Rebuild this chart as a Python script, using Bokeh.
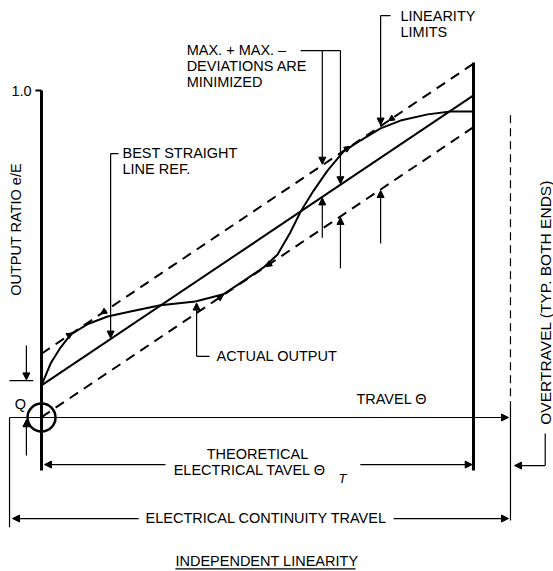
import math
from bokeh.plotting import figure
from bokeh.models import ColumnDataSource, Arrow, NormalHead, Range1d
from bokeh.core.properties import value
from bokeh.embed import file_html
from bokeh.resources import INLINE

# ---------------- data (travel fraction u, output ratio v) ----------------
ACTUAL_X = [0.0, 0.021, 0.044, 0.067, 0.106, 0.153, 0.206, 0.275, 0.356, 0.421,
            0.468, 0.514, 0.546, 0.576, 0.600, 0.630, 0.662, 0.699, 0.738, 0.785,
            0.831, 0.894, 0.947, 1.0]
ACTUAL_Y = [0.098, 0.165, 0.214, 0.253, 0.285, 0.309, 0.324, 0.343, 0.355, 0.377,
            0.418, 0.459, 0.498, 0.566, 0.630, 0.694, 0.755, 0.813, 0.847, 0.884,
            0.908, 0.927, 0.936, 0.936]
BEST_X = [0.0, 1.0]
BEST_Y = [0.098, 0.985]
BAND = 0.097                       # linearity limit half-width
Y_TICKS = [1.0]
Y_TICK_LABELS = ["1.0"]
# contact points of the actual output with the limit lines (u, which limit, direction)
CONTACT_U = [0.072, 0.137, 0.421, 0.519, 0.715, 0.803]
CONTACT_SIDE = [1, 1, -1, -1, 1, 1]
CONTACT_DIR = [1, -1, 1, -1, 1, -1]

FONT = value("Liberation Sans")

p = figure(width=553, height=571,
           x_range=Range1d(-0.09491, 1.18519), y_range=Range1d(-0.47095, 1.27523),
           output_backend="svg", toolbar_location=None, min_border=0,
           x_axis_location=None, y_axis_location=None)
p.grid.visible = False
p.outline_line_color = None
p.background_fill_color = "white"
p.border_fill_color = "white"

K = "black"
slope = (BEST_Y[1] - BEST_Y[0]) / (BEST_X[1] - BEST_X[0])

def best(u):
    return BEST_Y[0] + slope * u

# ---- thick frame lines ----
p.segment(x0=[0.0, 1.0], y0=[Y_TICKS[0], 1.086], x1=[0.0, 1.0], y1=[-0.162, -0.162],
          line_color=K, line_width=3)
p.segment(x0=[-0.014], y0=Y_TICKS, x1=[0.0], y1=Y_TICKS, line_color=K, line_width=2)

# ---- best straight line and limits ----
p.line(BEST_X, BEST_Y, line_color=K, line_width=2)
p.line(BEST_X, [y + BAND for y in BEST_Y], line_color=K, line_width=2, line_dash="10 7")
p.line(BEST_X, [y - BAND for y in BEST_Y], line_color=K, line_width=2, line_dash="10 7")

# ---- actual output ----
p.line(ACTUAL_X, ACTUAL_Y, line_color=K, line_width=2)

# ---- Q circle at origin ----
p.scatter([0.0], [0.0], marker="circle", size=28, fill_color=None, line_color=K, line_width=2.5)

# ---- thin lines ----
thin = dict(
    x0=[0.160, 0.600, 0.785, 0.359, -0.074, -0.074, 1.166, 1.0856, 0.310],
    y0=[0.807, 1.122, 1.229, 0.187, 0.113, 0.0, -0.049, 0.037, -0.463],
    x1=[0.178, 0.692, 0.808, 0.389, -0.019, -0.074, 1.166, 1.0856, 0.727],
    y1=[0.807, 1.122, 1.229, 0.187, 0.113, -0.336, -0.147, -0.315, -0.463],
)
p.segment(source=ColumnDataSource(thin), x0="x0", y0="y0", x1="x1", y1="y1",
          line_color=K, line_width=1.2)
p.segment(x0=[1.0856], y0=[0.924], x1=[1.0856], y1=[0.037], line_color=K,
          line_width=1.2, line_dash="8 5")

# ---- arrows ----
def arrows(x0, y0, x1, y1, size=7, lw=1.2, body=True):
    src = ColumnDataSource(dict(x0=x0, y0=y0, x1=x1, y1=y1))
    p.add_layout(Arrow(end=NormalHead(size=size, fill_color=K, line_color=K, line_width=1),
                       x_start="x0", y_start="y0", x_end="x1", y_end="y1", source=src,
                       line_color=K, line_width=lw, line_alpha=1.0 if body else 0.0))

# leader arrows (start -> tip)
arrows(
    x0=[0.160, 0.650, 0.692, 0.785, -0.035, 0.650, 0.692, 0.785, 0.359, -0.035,
        -0.074, 0.287, 0.738, 0.225, 0.815, 1.166],
    y0=[0.807, 1.122, 1.122, 1.229, 0.220, 0.550, 0.456, 0.532, 0.187, -0.116,
        0.0, -0.144, -0.144, -0.309, -0.309, -0.147],
    x1=[0.160, 0.650, 0.692, 0.785, -0.035, 0.650, 0.692, 0.785, 0.359, -0.035,
        1.081, 0.007, 0.997, -0.067, 1.081, 1.095],
    y1=[best(0.160) + 0.003, best(0.650) + BAND + 0.003, best(0.692) + 0.003,
        best(0.785) + BAND + 0.003, 0.115, best(0.650) - 0.003,
        best(0.692) - BAND - 0.003, best(0.785) - BAND - 0.003, 0.350, -0.007,
        0.0, -0.144, -0.144, -0.309, -0.309, -0.147],
)

# small contact arrowheads along the limit lines
cx0, cy0, cx1, cy1 = [], [], [], []
for u, side, d in zip(CONTACT_U, CONTACT_SIDE, CONTACT_DIR):
    du = 0.012 * d
    cx0.append(u - du); cy0.append(best(u - du) + side * BAND)
    cx1.append(u); cy1.append(best(u) + side * BAND)
arrows(cx0, cy0, cx1, cy1, size=6, body=False)

# ---- texts (positions are cap-height centres) ----
def txt(x, y, s, size="14.5px", align="left", angle=0.0, style="normal"):
    p.text(x=x, y=y, text=s, text_font=FONT, text_font_size=value(size),
           text_align=align, text_baseline="middle", angle=angle,
           text_font_style=style, text_color=K)

txt([-0.023], Y_TICKS, Y_TICK_LABELS, align="right")
txt([-0.058], [0.575], ["OUTPUT RATIO e/E"], align="center", angle=math.pi / 2)
txt([0.1875, 0.1875], [0.809, 0.759], ["BEST STRAIGHT", "LINE REF."])
txt([0.336, 0.336, 0.336], [1.125, 1.075, 1.026],
    ["MAX. + MAX. \u2013", "DEVIATIONS ARE", "MINIMIZED"])
txt([0.831, 0.831], [1.229, 1.179], ["LINEARITY", "LIMITS"])
txt([0.405], [0.188], ["ACTUAL OUTPUT"])
txt([0.729], [0.058], ["TRAVEL  \u0398"])
txt([-0.049], [0.040], ["Q"], align="center")
txt([0.5], [-0.112], ["THEORETICAL"], align="center")
txt([0.306], [-0.162], ["ELECTRICAL TAVEL \u0398"])
txt([0.6875], [-0.187], ["T"], size="13px", style="italic")
txt([0.241], [-0.307], ["ELECTRICAL CONTINUITY TRAVEL"])
txt([0.310], [-0.440], ["INDEPENDENT LINEARITY"])
txt([1.166], [0.352], ["OVERTRAVEL (TYP. BOTH ENDS)"], size="15.5px", align="center",
    angle=math.pi / 2)

open("out.html", "w").write(file_html(p, INLINE))
